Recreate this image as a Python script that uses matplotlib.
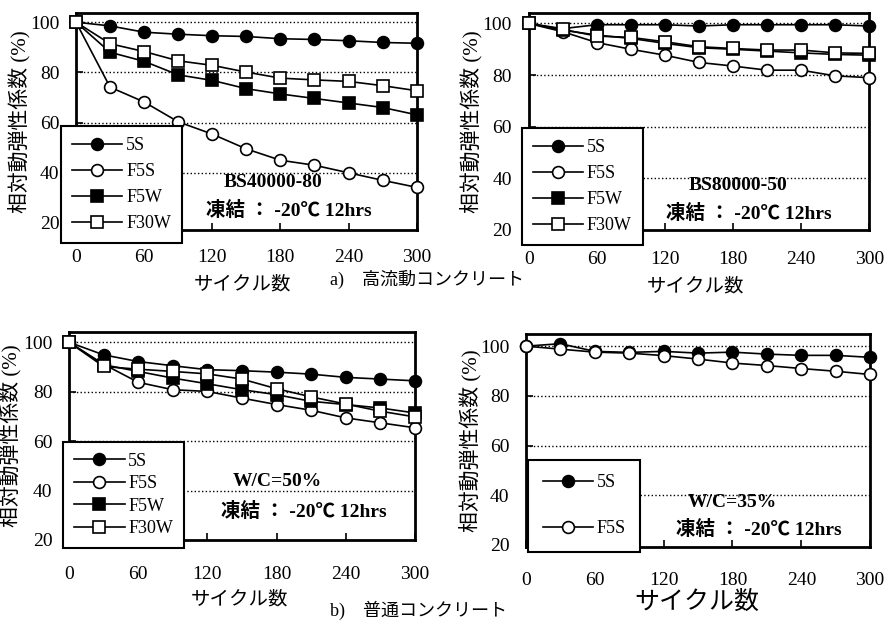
import matplotlib.pyplot as plt

# fonte: numeros em serif, japones cai no Noto CJK
plt.rcParams['font.family'] = ['Liberation Serif', 'Noto Sans CJK JP']

cycles = [0, 30, 60, 90, 120, 150, 180, 210, 240, 270, 300]
xticks = [0, 60, 120, 180, 240, 300]
yticks = [20, 40, 60, 80, 100]
grid_levels = [40, 60, 80, 100]

# a) 高流動コンクリート, BS40000-80
a_5S = [100, 98.5, 96.0, 95.2, 94.6, 94.3, 93.4, 93.1, 92.6, 91.9, 91.6]
a_F5S = [100, 74.1, 68.2, 60.3, 55.4, 49.5, 45.0, 43.0, 40.0, 37.0, 34.2]
a_F5W = [100, 88.0, 84.4, 79.0, 76.8, 73.5, 71.4, 69.6, 67.8, 66.0, 63.1]
a_F30W = [100, 91.4, 88.3, 84.6, 82.8, 80.1, 77.7, 77.0, 76.4, 74.7, 72.7]

# BS80000-50
b_5S = [100, 98.0, 99.5, 99.5, 99.5, 99.0, 99.5, 99.5, 99.5, 99.5, 99.0]
b_F5S = [100, 96.8, 92.6, 90.0, 87.7, 84.9, 83.5, 81.9, 81.9, 79.7, 79.0]
b_F5W = [100, 97.4, 95.5, 94.2, 92.3, 90.6, 90.0, 89.3, 88.6, 88.0, 87.7]
b_F30W = [100, 97.7, 95.1, 94.6, 92.9, 91.0, 90.3, 89.7, 89.7, 88.6, 88.4]

# b) 普通コンクリート, W/C=50%
c_5S = [100, 94.9, 92.2, 90.5, 88.9, 88.5, 87.9, 87.1, 85.8, 85.1, 84.4]
c_F5S = [100, 91.1, 83.8, 80.8, 80.1, 77.4, 74.8, 72.5, 69.4, 67.4, 65.4]
c_F5W = [100, 90.9, 88.2, 85.5, 83.2, 80.8, 78.8, 76.1, 74.8, 73.4, 71.4]
c_F30W = [100, 90.2, 89.1, 88.2, 87.2, 85.1, 81.2, 77.9, 75.0, 72.1, 69.8]

# W/C=35%
d_5S = [100, 101.0, 97.9, 97.5, 97.9, 97.2, 97.6, 96.8, 96.3, 96.3, 95.5]
d_F5S = [100, 98.8, 97.6, 97.2, 96.2, 94.8, 93.2, 92.2, 91.0, 89.9, 88.6]

estilo = {
    '5S': ('o', 'black'),
    'F5S': ('o', 'white'),
    'F5W': ('s', 'black'),
    'F30W': ('s', 'white'),
}

ylabel = '相対動弾性係数 (%)'
xlabel = 'サイクル数'
frozen = '凍結 ： -20℃ 12hrs'


def painel(ax, series, ylim, leg_anchor, leg_spacing, texto1, pos1, pos2,
           tickpad, xlab_pos, ylab_x, xlab_size=14, leg_pad=0.6):
    for lbl, vals in series:
        mk, fc = estilo[lbl]
        ax.plot(cycles, vals, color='black', lw=1.2, marker=mk, ms=8.5,
                mfc=fc, mec='black', mew=1.2, label=lbl, clip_on=False, zorder=5)
    for g in grid_levels:
        ax.axhline(g, color='black', ls=':', lw=1.0, zorder=1)
    ax.set_xlim(0, 300)
    ax.set_ylim(*ylim)
    ax.set_xticks(xticks)
    ax.set_yticks(yticks)
    ax.tick_params(direction='in', length=5, width=1.2, labelsize=14)
    ax.tick_params(axis='x', pad=tickpad)
    ax.tick_params(axis='y', pad=12)
    for s in ax.spines.values():
        s.set_linewidth(2.0)
    ax.set_ylabel(ylabel, fontsize=15)
    ax.yaxis.set_label_coords(ylab_x, 0.5)
    ax.set_xlabel(xlabel, fontsize=xlab_size)
    ax.xaxis.set_label_coords(*xlab_pos)
    leg = ax.legend(loc='upper left', bbox_to_anchor=leg_anchor, fontsize=13,
                    handlelength=2.8, labelspacing=leg_spacing, handletextpad=0.2,
                    borderpad=leg_pad, borderaxespad=0, fancybox=False,
                    framealpha=1, edgecolor='black')
    leg.get_frame().set_linewidth(1.5)
    leg.set_zorder(10)
    if texto1:
        ax.text(pos1[0], pos1[1], texto1, transform=ax.transAxes, ha='center',
                va='center', fontsize=14, fontweight='bold')
    ax.text(pos2[0], pos2[1], frozen, transform=ax.transAxes, ha='center',
            va='center', fontsize=14, fontweight='bold')


fig = plt.figure(figsize=(8.87, 6.25), dpi=100)

ax_a = fig.add_axes([0.0857, 0.632, 0.384, 0.347])
painel(ax_a, [('5S', a_5S), ('F5S', a_F5S), ('F5W', a_F5W), ('F30W', a_F30W)],
       (17.2, 103.6), (-0.044, 0.479), 0.5, 'BS40000-80', (0.578, 0.217),
       (0.625, 0.092), 14, (0.49, -0.212), -0.135)

ax_b = fig.add_axes([0.596, 0.632, 0.384, 0.347])
painel(ax_b, [('5S', b_5S), ('F5S', b_F5S), ('F5W', b_F5W), ('F30W', b_F30W)],
       (20, 104), (-0.02, 0.47), 0.5, 'BS80000-50', (0.616, 0.207),
       (0.645, 0.078), 15, (0.49, -0.221), -0.135)

ax_c = fig.add_axes([0.0778, 0.136, 0.390, 0.333])
painel(ax_c, [('5S', c_5S), ('F5S', c_F5S), ('F5W', c_F5W), ('F30W', c_F30W)],
       (20, 104.2), (-0.017, 0.471), 0.3, 'W/C=50%', (0.601, 0.279),
       (0.679, 0.135), 19, (0.494, -0.245), -0.136)

ax_d = fig.add_axes([0.593, 0.125, 0.388, 0.341])
painel(ax_d, [('5S', d_5S), ('F5S', d_F5S)],
       (19.2, 105), (0.006, 0.408), 1.6, 'W/C=35%', (0.599, 0.207),
       (0.677, 0.08), 18, (0.497, -0.207), -0.128, xlab_size=18, leg_pad=0.8)

fig.text(330 / 887, 1 - 279 / 625, 'a)　高流動コンクリート', fontsize=13,
         ha='left', va='center')
fig.text(330 / 887, 1 - 610 / 625, 'b)　普通コンクリート', fontsize=13,
         ha='left', va='center')

plt.savefig('out.png', dpi=100)
